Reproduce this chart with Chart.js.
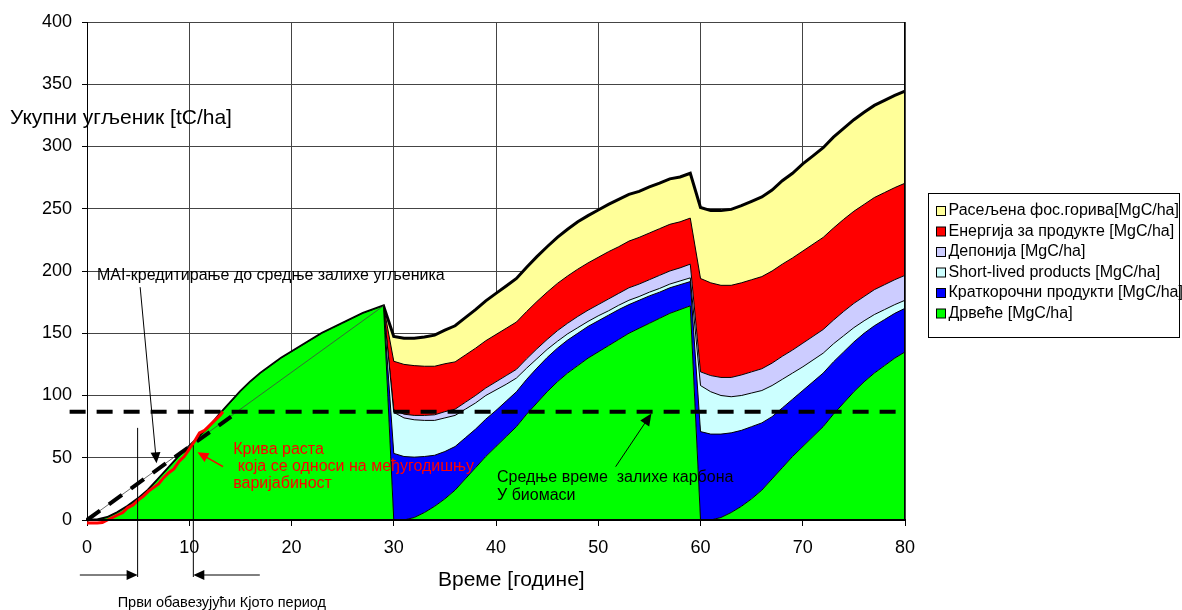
<!DOCTYPE html>
<html>
<head>
<meta charset="utf-8">
<script src="https://cdn.jsdelivr.net/npm/chart.js@4.4.1/dist/chart.umd.min.js"></script>
<style>
  html, body { margin: 0; padding: 0; background: #fff; }
</style>
</head>
<body>
<canvas id="carbonChart" width="1182" height="610"></canvas>
<script>
// years of the simulation
const years = [0,1,2,3,4,5,6,7,8,9,10,11,12,13,14,15,16,17,18,19,20,21,22,23,24,25,26,27,28,29,
    30,31,32,33,34,35,36,37,38,39,40,41,42,43,44,45,46,47,48,49,50,51,52,53,54,55,56,57,58,59,
    60,61,62,63,64,65,66,67,68,69,70,71,72,73,74,75,76,77,78,79,80];

// stacked carbon pools [MgC/ha], bottom to top
const trees = [0,0,2,6,11,17,24,33,42,51,59,67,75,85,94,103,111,118,124,130,135,140,145,150,154,158,162,166,169,172,
    0,0,2,6,11,17,24,33,42,51,59,67,75,85,94,103,111,118,124,130,135,140,145,150,154,158,162,166,169,172,
    0,0,2,6,11,17,24,33,42,51,59,67,75,85,94,103,111,118,124,130,135];
const shortProducts = [0,0,0,0,0,0,0,0,0,0,0,0,0,0,0,0,0,0,0,0,0,0,0,0,0,0,0,0,0,0,
    53.5,51,48.5,45,41,38,35,33,31,30,29,28.5,28,28,28,27.5,27,26.5,26,25.5,25,24.5,24,23,22.5,22,21,20.5,20,19.5,
    71,69,67,64,61,58,54,50,48,46,45,44,43,42,41,40,39,38,37,36,35];
const shortLived = [0,0,0,0,0,0,0,0,0,0,0,0,0,0,0,0,0,0,0,0,0,0,0,0,0,0,0,0,0,0,
    33,31,30,29,28,27,25,23,21,19,16.5,13.5,11,9,7.5,6.5,5.5,5,4.5,4,4,3.5,3.5,3.5,3,3,3,3,3,3,
    37,34,31,29,28,27,26,25,23,21,19,17.5,16,14.5,13,11.5,10,9,8,7,6.5];
const landfill = [0,0,0,0,0,0,0,0,0,0,0,0,0,0,0,0,0,0,0,0,0,0,0,0,0,0,0,0,0,0,
    2,3,3.5,4,4.5,5,5,5.5,6,6,6.5,7,7,7.5,8,8,8.5,8.5,9,9,9,9.5,9.5,10,10,10,10.5,10.5,10.5,11,
    11,13,14.5,15.5,16.5,17,17.5,18,18.5,18.5,19,19,19,19,19.5,19.5,19.5,20,20,20,20];
const energy = [0,0,0,0,0,0,0,0,0,0,0,0,0,0,0,0,0,0,0,0,0,0,0,0,0,0,0,0,0,0,
    39,40,40,39.5,39,38.5,38,38,38,38,38,38,38,38,38,38,38,38,38,38,38,38,37.5,37.5,37.5,37.5,37.5,37.5,37,37,
    75,74.5,74,74,74,74,74,74,74,74,74,74,74,74,74,74,74,74,74,74,74];
const fossil = [0,0,0,0,0,0,0,0,0,0,0,0,0,0,0,0,0,0,0,0,0,0,0,0,0,0,0,0,0,0,
    20,21,22,23.5,25,27,29,30,31,32,33,34,35,35.5,36,36.5,37,37.5,38,38,38,38,38,37.5,37,37,36.5,36.5,36,36,
    57,58,60,61,62,63,64,65,67,68,70,71,72,73,73,73.5,74,74,74,74,74];

// growth curve with inter-annual variability
const varX = [0,0.5,1,1.5,2,2.5,3,3.5,4,4.5,5,5.5,6,6.5,7,7.5,8,8.5,9,9.5,10,10.5,11,11.5,12,12.5,13,13.3];
const varY = [-2.5,-2.5,-2.5,-2,0,2,4,6,10,12,16,19,23,26,29,34,38,41,47,51,57,63,70,72,76,80,84,87];

// mean carbon stock and MAI lines
const meanStockX = [-1.7, 80];
const meanStockY = [87, 87];
const maiDashX = [0, 14.1];
const maiDashY = [0, 83];
const maiLineX = [0, 29];
const maiLineY = [0, 172];

const seriesLabels = ["Дрвеће [MgC/ha]", "Краткорочни продукти [MgC/ha]", "Short-lived products [MgC/ha]",
    "Депонија [MgC/ha]", "Енергија за продукте [MgC/ha]", "Расељена фос.горива[MgC/ha]"];
const seriesColors = ["#00FF00", "#0000FF", "#CCFFFF", "#CCCCFF", "#FF0000", "#FFFF99"];
const seriesData = [trees, shortProducts, shortLived, landfill, energy, fossil];

const FONT = "'Liberation Sans', Arial, sans-serif";

function pts(xs, ys) {
    return xs.map((x, i) => ({ x: x, y: ys[i] }));
}

const datasets = seriesData.map((vals, i) => ({
    label: seriesLabels[i],
    data: pts(years, vals),
    backgroundColor: seriesColors[i],
    borderColor: "#000",
    borderWidth: i === 5 ? 3 : 1,
    fill: i === 0 ? "origin" : "-1",
    pointRadius: 0,
    tension: 0,
    stack: "pools",
    order: 1
}));

datasets.push({
    label: "mai", data: pts(maiLineX, maiLineY), borderColor: "#444", borderWidth: 0.8,
    fill: false, pointRadius: 0, stack: "s1", order: -1
});
datasets.push({
    label: "mean", data: pts(meanStockX, meanStockY), borderColor: "#000", borderWidth: 4,
    borderDash: [16, 11], fill: false, pointRadius: 0, stack: "s2", order: -2, clip: false
});
datasets.push({
    label: "maidash", data: pts(maiDashX, maiDashY), borderColor: "#000", borderWidth: 4,
    borderDash: [16, 11], fill: false, pointRadius: 0, stack: "s3", order: -2, clip: false
});
datasets.push({
    label: "variability", data: pts(varX, varY), borderColor: "#FF0000", borderWidth: 3,
    fill: false, pointRadius: 0, stack: "s4", order: -3, clip: false
});

function arrow(ctx, x1, y1, x2, y2, color, width, head) {
    const ang = Math.atan2(y2 - y1, x2 - x1);
    ctx.strokeStyle = color;
    ctx.fillStyle = color;
    ctx.lineWidth = width;
    ctx.beginPath();
    ctx.moveTo(x1, y1);
    ctx.lineTo(x2 - Math.cos(ang) * head * 0.6, y2 - Math.sin(ang) * head * 0.6);
    ctx.stroke();
    const w = head * 0.45;
    ctx.beginPath();
    ctx.moveTo(x2, y2);
    ctx.lineTo(x2 - head * Math.cos(ang) + w * Math.sin(ang), y2 - head * Math.sin(ang) - w * Math.cos(ang));
    ctx.lineTo(x2 - head * Math.cos(ang) - w * Math.sin(ang), y2 - head * Math.sin(ang) + w * Math.cos(ang));
    ctx.closePath();
    ctx.fill();
}

const overlay = {
    id: "overlay",
    afterDatasetsDraw(chart) {
        const { ctx, chartArea: a } = chart;
        ctx.save();
        ctx.strokeStyle = "#000";
        ctx.lineWidth = 1;
        ctx.beginPath();
        ctx.moveTo(a.right - 0.5, a.top);
        ctx.lineTo(a.right - 0.5, a.bottom);
        ctx.stroke();
        ctx.lineWidth = 2;
        ctx.beginPath();
        ctx.moveTo(a.left, a.bottom);
        ctx.lineTo(a.right, a.bottom);
        ctx.stroke();
        ctx.restore();
    },
    afterDraw(chart) {
        const { ctx, chartArea: a } = chart;
        const sx = chart.scales.x, sy = chart.scales.y;
        const X = v => sx.getPixelForValue(v);
        const Y = v => sy.getPixelForValue(v);
        ctx.save();
        ctx.textBaseline = "middle";

        // axis titles
        ctx.fillStyle = "#000";
        ctx.font = "21px " + FONT;
        ctx.textAlign = "left";
        ctx.fillText("Укупни угљеник [tC/ha]", 10, Y(323));
        ctx.textAlign = "center";
        ctx.fillText("Време [године]", X(41.5), a.bottom + 60);

        // annotations
        ctx.textAlign = "left";
        ctx.font = "16px " + FONT;
        ctx.fillText("MAI-кредитирање до средње залихе угљеника", X(0.98), Y(196));
        arrow(ctx, X(5.2), Y(187), X(6.8), Y(45.5), "#000", 1, 11);

        ctx.fillText("Средње време  залихе карбона", X(40.1), Y(33.7));
        ctx.fillText("У биомаси", X(40.1), Y(19.3));
        arrow(ctx, X(51.7), Y(42.8), X(55.2), Y(85.6), "#000", 1, 12);

        ctx.fillStyle = "#FF0000";
        ctx.fillText("Крива раста", X(14.3), Y(56.2));
        ctx.fillText(" која се односи на међугодишњу", X(14.3), Y(42.5));
        ctx.fillText("варијабиност", X(14.3), Y(28.9));
        arrow(ctx, X(13.3), Y(42.8), X(10.8), Y(54.5), "#FF0000", 1.5, 11);

        // first Kyoto commitment period
        ctx.strokeStyle = "#000";
        ctx.lineWidth = 1;
        ctx.beginPath();
        ctx.moveTo(X(4.95), Y(74));
        ctx.lineTo(X(4.95), a.bottom + 57);
        ctx.moveTo(X(10.4), Y(60));
        ctx.lineTo(X(10.4), a.bottom + 57);
        ctx.stroke();
        arrow(ctx, X(-0.7), a.bottom + 55, X(4.95), a.bottom + 55, "#000", 1, 11);
        arrow(ctx, X(16.9), a.bottom + 55, X(10.4), a.bottom + 55, "#000", 1, 11);
        ctx.fillStyle = "#000";
        ctx.font = "14.5px " + FONT;
        ctx.fillText("Први обавезујући Кјото период", X(3.0), a.bottom + 83);

        // legend box
        const lx = a.right + 23.5, ly = 193.5, lw = 251, lh = 144;
        ctx.fillStyle = "#fff";
        ctx.fillRect(lx, ly, lw, lh);
        ctx.strokeStyle = "#000";
        ctx.strokeRect(lx, ly, lw, lh);
        ctx.font = "16px " + FONT;
        for (let k = 0; k < 6; k++) {
            const i = 5 - k;
            const cy = ly + 17.5 + k * 20.5;
            ctx.fillStyle = seriesColors[i];
            ctx.fillRect(lx + 8, cy - 4.5, 9, 9);
            ctx.strokeRect(lx + 8, cy - 4.5, 9, 9);
            ctx.fillStyle = "#000";
            ctx.fillText(seriesLabels[i], lx + 20, cy);
        }
        ctx.restore();
    }
};

const ctx = document.getElementById("carbonChart").getContext("2d");

const carbonChart = new Chart(ctx, {
    type: "line",
    data: { datasets: datasets },
    options: {
        responsive: false,
        animation: false,
        layout: { padding: { left: 0, top: 22, right: 277, bottom: 0 } },
        plugins: {
            legend: { display: false },
            tooltip: { enabled: false }
        },
        scales: {
            x: {
                type: "linear",
                min: 0,
                max: 80,
                ticks: { stepSize: 10, color: "#000", font: { size: 18, family: FONT }, padding: 11 },
                grid: { color: "#444", lineWidth: 1, tickLength: 6, tickColor: "#000" },
                border: { color: "#000", width: 2 },
                afterFit: s => { s.height = 90; }
            },
            y: {
                stacked: true,
                min: 0,
                max: 400,
                ticks: { stepSize: 50, color: "#000", font: { size: 18, family: FONT }, padding: 10 },
                grid: { color: "#444", lineWidth: 1, tickLength: 5, tickColor: "#000" },
                border: { color: "#000", width: 1 },
                afterFit: s => { s.width = 87; }
            }
        }
    },
    plugins: [overlay]
});
</script>
</body>
</html>
